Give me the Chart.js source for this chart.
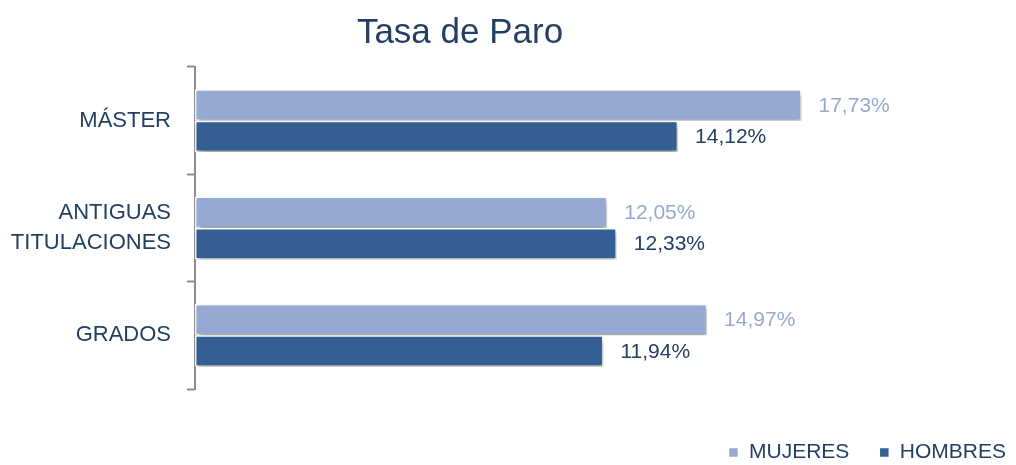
<!DOCTYPE html>
<html>
<head>
<meta charset="utf-8">
<style>
  html, body { margin: 0; padding: 0; background: #fff; }
  #wrap { width: 1016px; height: 465px; }
</style>
</head>
<body>
<div id="wrap"><canvas id="paroChart"></canvas></div>

<script src="https://cdn.jsdelivr.net/npm/chart.js@4.4.1/dist/chart.umd.min.js"></script>
<script>
// chart data
var categories = [['MÁSTER'], ['ANTIGUAS', 'TITULACIONES'], ['GRADOS']];
var seriesNames = ['MUJERES', 'HOMBRES'];
var mujeres = [17.73, 12.05, 14.97];
var hombres = [14.12, 12.33, 11.94];

var FONT = "'Liberation Sans', Arial, sans-serif";
var lightBlue = '#95a9d2';
var darkBlue = '#345f92';
var navyText = '#233f62';

function fmt(v) {
    return v.toFixed(2).replace('.', ',') + '%';
}

// bar shadow + value labels + small position tweaks
var extras = {
    id: 'extras',
    afterLayout: function(chart) {
        // title sits a bit left of centre, legend at bottom right
        chart.titleBlock.left -= 48;
        chart.titleBlock.right -= 48;
        chart.legend.left += 20;
        chart.legend.right += 20;
        chart.legend.top += 8;
        chart.legend.bottom += 8;
    },
    beforeDatasetsDraw: function(chart) {
        var ctx = chart.ctx;
        ctx.save();
        ctx.shadowColor = 'rgba(0,0,0,0.4)';
        ctx.shadowBlur = 5;
        ctx.shadowOffsetX = 1;
        ctx.shadowOffsetY = 3;
    },
    afterDatasetsDraw: function(chart) {
        var ctx = chart.ctx;
        ctx.restore();
        ctx.save();
        ctx.font = '21px ' + FONT;
        ctx.textAlign = 'left';
        ctx.textBaseline = 'middle';
        chart.data.datasets.forEach(function(ds, i) {
            var meta = chart.getDatasetMeta(i);
            ctx.fillStyle = i === 0 ? lightBlue : navyText;
            meta.data.forEach(function(bar, j) {
                ctx.fillText(fmt(ds.data[j]), bar.x + 17, bar.y + 1);
            });
        });
        ctx.restore();
    }
};

var ctx = document.getElementById('paroChart').getContext('2d');
var chart = new Chart(ctx, {
    type: 'bar',
    data: {
        labels: categories,
        datasets: [{
            label: seriesNames[0],
            data: mujeres,
            backgroundColor: lightBlue,
            borderColor: '#ffffff',
            borderWidth: 1.5,
            borderSkipped: false
        }, {
            label: seriesNames[1],
            data: hombres,
            backgroundColor: darkBlue,
            borderColor: '#ffffff',
            borderWidth: 1.5,
            borderSkipped: false
        }]
    },
    plugins: [extras],
    options: {
        indexAxis: 'y',
        responsive: true,
        maintainAspectRatio: false,
        animation: false,
        categoryPercentage: 0.585,
        barPercentage: 1.0,
        layout: { padding: { left: 0, right: 0, top: 0, bottom: 0 } },
        scales: {
            x: {
                min: 0,
                max: 24,
                ticks: { display: false },
                grid: { display: false },
                border: { display: false },
                afterFit: function(scale) { scale.height = 15; }
            },
            y: {
                ticks: {
                    color: navyText,
                    font: { family: FONT, size: 22, lineHeight: 1.38 },
                    padding: 16
                },
                grid: {
                    drawOnChartArea: false,
                    tickLength: 8,
                    tickWidth: 2,
                    color: '#8c8c8c',
                    offset: true
                },
                border: { color: '#8c8c8c', width: 2 },
                afterFit: function(scale) { scale.width = 195; }
            }
        },
        plugins: {
            title: {
                display: true,
                text: 'Tasa de Paro',
                color: navyText,
                font: { family: FONT, size: 35, weight: 'normal' },
                padding: { top: 12, bottom: 13 }
            },
            legend: {
                position: 'bottom',
                align: 'end',
                labels: {
                    color: navyText,
                    font: { family: FONT, size: 21 },
                    boxWidth: 10,
                    boxHeight: 10,
                    padding: 30
                }
            },
            tooltip: { enabled: false }
        }
    }
});
</script>
</body>
</html>
